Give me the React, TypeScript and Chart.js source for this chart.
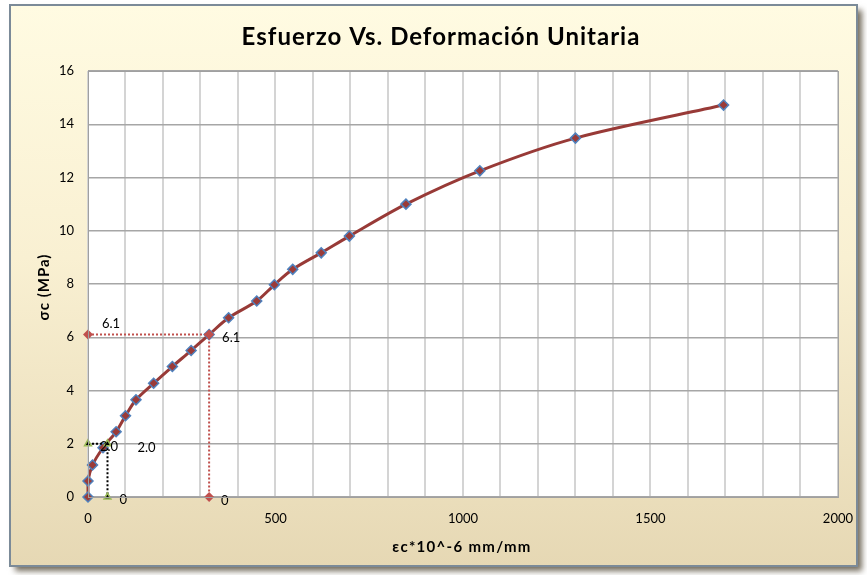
import React, { useEffect, useRef } from "react";
import { Chart, registerables } from "chart.js";

Chart.register(...registerables);

const strainX = [0, 0, 12, 40, 75, 100, 128, 175, 225, 275, 323, 375, 450, 497, 546, 622, 697, 848, 1045, 1300, 1695];
const stressY = [0, 0.6, 1.2, 1.85, 2.45, 3.05, 3.65, 4.27, 4.9, 5.5, 6.1, 6.73, 7.36, 7.97, 8.55, 9.17, 9.8, 11.0, 12.25, 13.48, 14.72];

const redRefX = [0, 323, 323];
const redRefY = [6.1, 6.1, 0];
const redLabels = ["6.1", "6.1", "0"];

const blackRefX = [0, 52, 52];
const blackRefY = [2.0, 2.0, 0];
const blackLabels = ["2.0", "2.0", "0"];

const titleText = "Esfuerzo Vs. Deformación Unitaria";
const xTitle = "εc*10^-6 mm/mm";
const yTitle = "σc (MPa)";

const W = 867;
const H = 575;

const toPts = (xs: number[], ys: number[]) => xs.map((x, i) => ({ x, y: ys[i] }));

export default function App() {
  const ref = useRef<HTMLCanvasElement | null>(null);

  useEffect(() => {
    if (!ref.current) return;

    const framePlugin = {
      id: "frame",
      beforeDraw(chart: any) {
        const ctx = chart.ctx;
        const ca = chart.chartArea;
        ctx.save();
        const fx = 10, fy = 5, fw = 847, fh = 561;
        ctx.shadowColor = "rgba(70,60,40,0.75)";
        ctx.shadowBlur = 6;
        ctx.shadowOffsetX = 5;
        ctx.shadowOffsetY = 5;
        const g = ctx.createLinearGradient(0, fy, 0, fy + fh);
        g.addColorStop(0, "#fffbe2");
        g.addColorStop(0.45, "#f9f0d2");
        g.addColorStop(1, "#e6d8b4");
        ctx.fillStyle = g;
        ctx.fillRect(fx, fy, fw, fh);
        ctx.shadowColor = "transparent";
        ctx.lineWidth = 2;
        ctx.strokeStyle = "#7b8a98";
        ctx.strokeRect(fx, fy, fw, fh);
        ctx.fillStyle = "#ffffff";
        ctx.fillRect(ca.left, ca.top, ca.right - ca.left, ca.bottom - ca.top);
        // titles
        ctx.fillStyle = "#000";
        ctx.textAlign = "center";
        ctx.textBaseline = "alphabetic";
        ctx.font = "bold 24px Lato";
        (ctx as any).letterSpacing = "1px";
        ctx.fillText(titleText, 441, 45);
        ctx.font = "bold 15px Lato";
        (ctx as any).letterSpacing = "1.3px";
        ctx.textBaseline = "middle";
        ctx.fillText(xTitle, 462, 547);
        ctx.translate(44, 287);
        ctx.rotate(-Math.PI / 2);
        (ctx as any).letterSpacing = "1px";
        ctx.fillText(yTitle, 0, 0);
        ctx.restore();
      },
      afterDraw(chart: any) {
        const ctx = chart.ctx;
        const ca = chart.chartArea;
        ctx.save();
        ctx.strokeStyle = "#a0a0a0";
        ctx.lineWidth = 1;
        ctx.strokeRect(ca.left + 0.5, ca.top + 0.5, ca.right - ca.left, ca.bottom - ca.top);
        ctx.restore();
      },
    };

    const labelPlugin = {
      id: "refLabels",
      afterDatasetsDraw(chart: any) {
        const ctx = chart.ctx;
        const xs = chart.scales.x;
        const ys = chart.scales.y;
        ctx.save();
        ctx.fillStyle = "#000";
        ctx.font = "13px Lato";
        ctx.textAlign = "left";
        ctx.textBaseline = "middle";
        const redOff = [[14, -11], [13, 3], [12, 4]];
        redRefX.forEach((x, i) => {
          ctx.fillText(redLabels[i], xs.getPixelForValue(x) + redOff[i][0], ys.getPixelForValue(redRefY[i]) + redOff[i][1]);
        });
        const blkOff = [[12, 3], [30, 4], [12, 3]];
        blackRefX.forEach((x, i) => {
          ctx.fillText(blackLabels[i], xs.getPixelForValue(x) + blkOff[i][0], ys.getPixelForValue(blackRefY[i]) + blkOff[i][1]);
        });
        ctx.restore();
      },
    };

    const chart = new Chart(ref.current, {
      type: "scatter",
      data: {
        datasets: [
          {
            label: "ref 6.1",
            data: toPts(redRefX, redRefY),
            showLine: true,
            clip: false,
            borderColor: "#c0504d",
            borderWidth: 2,
            borderDash: [2, 2],
            pointStyle: "rectRot",
            pointRadius: 5,
            pointBackgroundColor: "#c0504d",
            pointBorderColor: "#c0504d",
            pointBorderWidth: 0,
            tension: 0,
          },
          {
            label: "ref 2.0",
            data: toPts(blackRefX, blackRefY),
            showLine: true,
            clip: false,
            borderColor: "#000000",
            borderWidth: 2,
            borderDash: [2, 2],
            pointStyle: "triangle",
            pointRadius: 4,
            pointBackgroundColor: "#000000",
            pointBorderColor: "#9bbb59",
            pointBorderWidth: 1.5,
            tension: 0,
          },
          {
            label: "σc",
            data: toPts(strainX, stressY),
            showLine: true,
            clip: false,
            borderColor: "#983a37",
            borderWidth: 3,
            pointStyle: "rectRot",
            pointRadius: 5,
            pointBackgroundColor: "#9b3b38",
            pointBorderColor: "#4f81bd",
            pointBorderWidth: 1.5,
            tension: 0.3,
          },
        ],
      },
      options: {
        animation: false,
        responsive: false,
        maintainAspectRatio: false,
        layout: { padding: { top: 71, right: 29, left: 0, bottom: 0 } },
        plugins: {
          legend: { display: false },
          tooltip: { enabled: false },
          title: { display: false },
        },
        scales: {
          x: {
            type: "linear",
            min: 0,
            max: 2000,
            afterFit: (s: any) => { s.height = 78; },
            border: { display: false },
            grid: { color: "#d4d4d4", lineWidth: 2, drawTicks: false },
            ticks: {
              stepSize: 100,
              autoSkip: false,
              maxRotation: 0,
              padding: 14,
              color: "#000",
              font: { family: "Lato", size: 13 },
              callback: (v: any) => (Number(v) % 500 === 0 ? String(v) : ""),
            },
            title: { display: false },
          },
          y: {
            type: "linear",
            min: 0,
            max: 16,
            afterFit: (s: any) => { s.width = 88; },
            border: { display: false },
            grid: { color: "#a6a6a6", lineWidth: 1.5, drawTicks: false },
            ticks: {
              stepSize: 2,
              padding: 14,
              color: "#000",
              font: { family: "Lato", size: 13 },
            },
            title: { display: false },
          },
        },
      },
      plugins: [framePlugin, labelPlugin],
    } as any);

    return () => chart.destroy();
  }, []);

  return (
    <div style={{ position: "absolute", left: 0, top: 0, width: W, height: H }}>
      <canvas ref={ref} width={W} height={H} style={{ width: W, height: H, display: "block" }} />
    </div>
  );
}
